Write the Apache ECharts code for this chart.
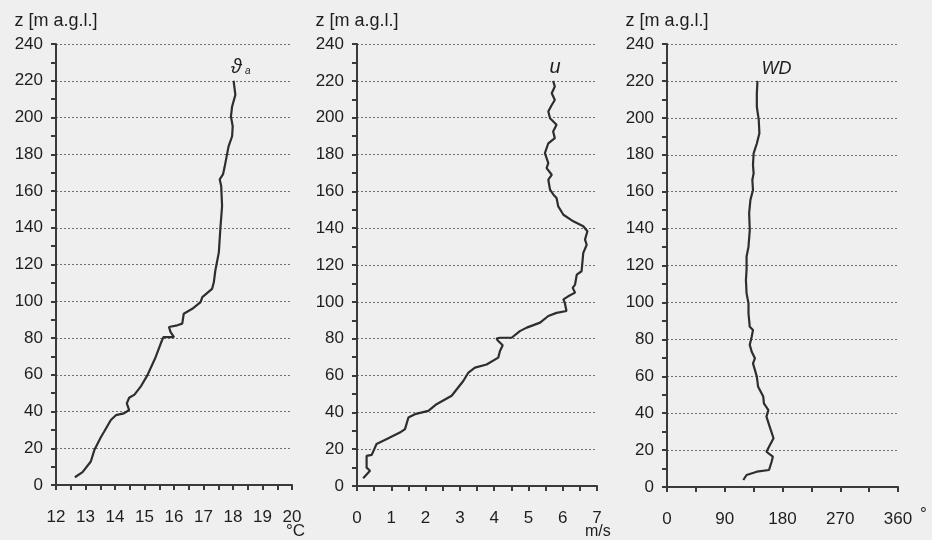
<!DOCTYPE html>
<html><head><meta charset="utf-8">
<script src="https://cdn.jsdelivr.net/npm/echarts@6/dist/echarts.min.js"></script>
<style>html,body{margin:0;padding:0;background:#efefef}#c{width:932px;height:540px}</style>
</head><body><div id="c"></div>
<script>
// Panel 1: air temperature profile
const tempZ = [4.2, 7, 12.8, 19, 26, 29, 35.4, 38, 39, 40.8, 44.4, 47.5, 49.2, 53.5, 59.8, 69.7, 77, 80.5, 80.5, 83.3, 86, 86.9, 87.8, 93.2, 95.9, 99.5, 102.2, 106.7, 110.3, 116.6, 126.6, 139.2, 151.8, 162.7, 166.3, 169, 172.6, 184.3, 189.8, 195.2, 200.6, 206, 212.3, 220];
const tempT = [12.64, 12.9, 13.18, 13.3, 13.52, 13.63, 13.86, 14.03, 14.3, 14.48, 14.4, 14.48, 14.66, 14.87, 15.1, 15.38, 15.55, 15.64, 16.0, 15.88, 15.83, 16.11, 16.28, 16.33, 16.62, 16.9, 16.96, 17.29, 17.35, 17.4, 17.52, 17.57, 17.63, 17.6, 17.55, 17.66, 17.71, 17.85, 17.97, 17.99, 17.93, 17.97, 18.08, 18.02];
// Panel 2: wind speed profile
const windZ = [4.2, 8.3, 10, 16.4, 16.9, 22.8, 25.5, 29, 30.9, 37.2, 39, 40.8, 44.4, 49, 57, 61.6, 64.3, 66, 69.7, 73.3, 76.4, 78.7, 80, 80.5, 80.5, 84.1, 86, 88.7, 92.3, 94, 95, 99.5, 101.3, 103, 105, 107.6, 109.4, 114.8, 116.6, 126.6, 131, 133.8, 138.3, 141, 143.7, 147.3, 151.8, 156.4, 158.2, 160.9, 166.3, 169, 172.6, 175.3, 180.7, 186.1, 188.9, 192.5, 196.1, 199.7, 203.3, 206.9, 209.6, 213.3, 216.9, 220];
const windU = [0.18, 0.38, 0.28, 0.28, 0.43, 0.57, 0.87, 1.25, 1.4, 1.5, 1.69, 2.08, 2.32, 2.76, 3.1, 3.25, 3.44, 3.78, 4.12, 4.17, 4.25, 4.12, 4.07, 4.17, 4.51, 4.75, 4.95, 5.34, 5.58, 5.82, 6.11, 6.06, 6.02, 6.16, 6.36, 6.29, 6.36, 6.41, 6.55, 6.6, 6.7, 6.65, 6.72, 6.6, 6.31, 6.02, 5.87, 5.82, 5.73, 5.63, 5.58, 5.68, 5.53, 5.58, 5.48, 5.58, 5.77, 5.72, 5.82, 5.63, 5.58, 5.68, 5.77, 5.68, 5.77, 5.72];
// Panel 3: wind direction profile
const dirZ = [3.8, 6.5, 8.3, 9.2, 13.7, 16.4, 19.1, 21.8, 26.4, 32.7, 38.1, 41.7, 45.3, 49, 54.3, 59.8, 67, 69.7, 73.3, 77, 81.4, 85, 86.8, 94, 99.5, 104.9, 112.1, 117.6, 124.8, 130.2, 139.2, 148.3, 155.5, 160.9, 166.3, 169.9, 174.4, 180.7, 186.1, 191.6, 198.8, 206, 213.3, 220];
const dirWD = [119, 124, 140, 159, 163, 165, 155, 159, 166, 160, 155, 158, 151, 150, 142, 140, 134, 137, 132, 129, 132, 134, 129, 127, 127, 124, 123, 124, 124, 127, 129, 128, 130, 134, 133, 135, 134, 135, 140, 144, 143, 140, 140, 141];

const zTicks = {min: 0, max: 240, interval: 20};
const panels = [
  {xs: tempT, zs: tempZ, min: 12, max: 20, interval: 1, unit: '°C', label: '{t|ϑ} {s|a}', left: 56, width: 236, lblOff: [7, 0]},
  {xs: windU, zs: windZ, min: 0, max: 7, interval: 1, unit: 'm/s', label: '{t|u}', left: 357, width: 240, lblOff: [2, 0]},
  {xs: dirWD, zs: dirZ, min: 0, max: 360, interval: 90, unit: '°', label: '{w|WD}', left: 667, width: 231, lblOff: [19, 0]}
];

const FONT = "'Liberation Sans', Arial, sans-serif";
const TXT = '#1e1e1e';
const AX = '#3a3a3a';
const chart = echarts.init(document.getElementById('c'), null, {renderer: 'canvas'});
const grid = [], xAxis = [], yAxis = [], series = [];
panels.forEach((p, i) => {
  grid.push({left: p.left, width: p.width, top: 44, height: 443});
  const isDeg = p.unit === '°';
  const isMs = p.unit === 'm/s';
  xAxis.push({
    type: 'value', gridIndex: i, min: p.min, max: p.max, interval: p.interval,
    axisLine: {show: true, lineStyle: {color: AX, width: 2}},
    axisTick: {show: true, length: 5, lineStyle: {color: AX, width: 2}},
    minorTick: {show: true, splitNumber: 2, length: 5, lineStyle: {color: AX, width: 2}},
    splitLine: {show: false},
    axisLabel: {color: TXT, fontSize: 17, fontFamily: FONT, margin: 24},
    name: p.unit, nameLocation: 'end', nameMoveOverlap: false,
    nameGap: isDeg ? 22 : (isMs ? -12 : -6),
    nameTextStyle: isDeg
      ? {color: TXT, fontSize: 17, fontFamily: FONT, verticalAlign: 'top', padding: [19, 0, 0, 0]}
      : {color: TXT, fontSize: isMs ? 16 : 17, fontFamily: FONT, verticalAlign: 'top', padding: [38, 0, 0, 0]}
  });
  yAxis.push({
    type: 'value', gridIndex: i, min: zTicks.min, max: zTicks.max, interval: zTicks.interval,
    axisLine: {show: true, lineStyle: {color: AX, width: 2}},
    axisTick: {show: true, length: 5, lineStyle: {color: AX, width: 2}},
    minorTick: {show: true, splitNumber: 2, length: 5, lineStyle: {color: AX, width: 2}},
    splitLine: {show: true, lineStyle: {color: '#6f6f6f', width: 1, type: [2, 2]}},
    axisLabel: {color: TXT, fontSize: 17, fontFamily: FONT, margin: 13},
    name: 'z [m a.g.l.]', nameLocation: 'end', nameGap: 14, nameMoveOverlap: false,
    nameTextStyle: {color: TXT, fontSize: 18, fontFamily: FONT}
  });
  const data = p.xs.map((v, k) => [v, p.zs[k]]);
  const last = data[data.length - 1];
  series.push({
    type: 'line', xAxisIndex: i, yAxisIndex: i, data: data,
    showSymbol: false, symbol: 'none', smooth: false, silent: true,
    lineStyle: {color: '#2e2e2e', width: 2.2}, animation: false,
    markPoint: {
      symbol: 'circle', symbolSize: 0, silent: true, animation: false,
      data: [{coord: last, value: 0}],
      label: {
        show: true, position: 'top', distance: 3, offset: p.lblOff,
        formatter: p.label,
        rich: {
          t: {fontSize: 20, fontStyle: 'italic', fontFamily: FONT, color: TXT},
          w: {fontSize: 18, fontStyle: 'italic', fontFamily: FONT, color: TXT},
          s: {fontSize: 10, fontStyle: 'italic', fontFamily: FONT, color: TXT, padding: [7, 0, 0, 0]}
        }
      }
    }
  });
});

chart.setOption({
  backgroundColor: '#efefef',
  animation: false,
  grid, xAxis, yAxis, series
});
</script>
</body></html>
